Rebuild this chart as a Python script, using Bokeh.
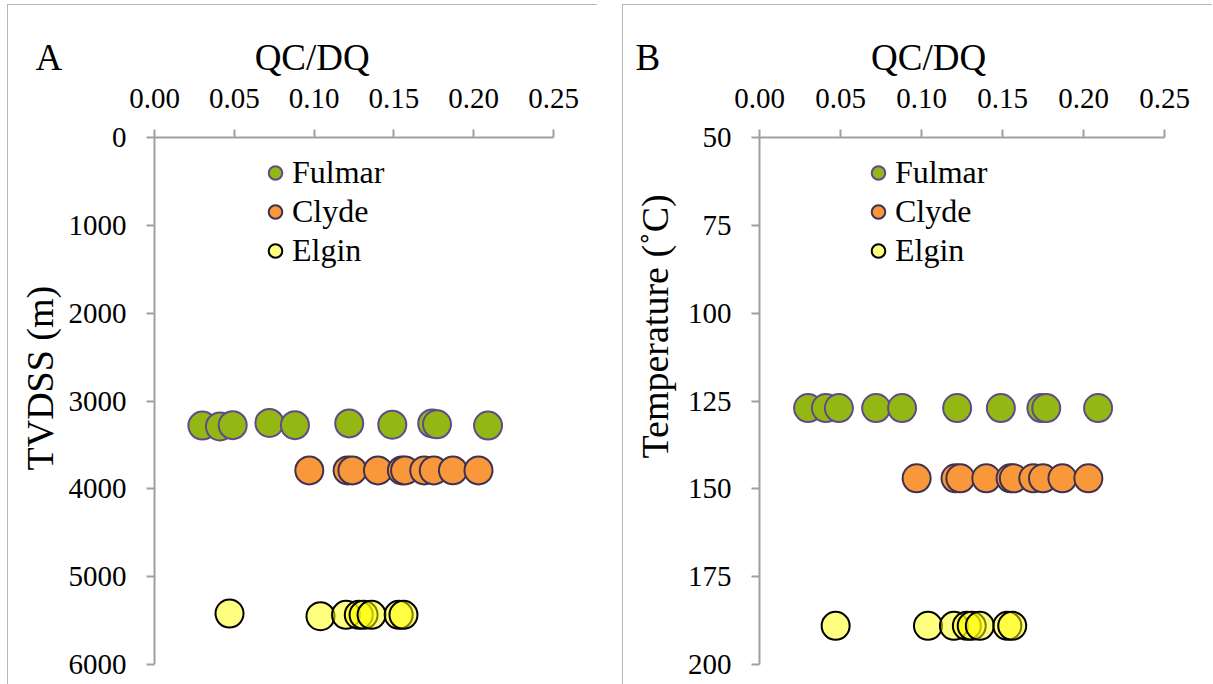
from bokeh.plotting import figure
from bokeh.models import Range1d, FixedTicker, PrintfTickFormatter, Legend, LegendItem, Title
from bokeh.layouts import row
from bokeh.embed import file_html
from bokeh.resources import INLINE

# ---- data ----
qc_fulmar = [0.030, 0.041, 0.049, 0.072, 0.088, 0.122, 0.149, 0.174, 0.177, 0.209]
depth_fulmar = [3280, 3290, 3275, 3250, 3275, 3255, 3270, 3255, 3265, 3280]
temp_fulmar = [127, 127, 127, 127, 127, 127, 127, 127, 127, 127]

qc_clyde = [0.097, 0.121, 0.124, 0.140, 0.155, 0.157, 0.169, 0.175, 0.187, 0.203]
depth_clyde = [3790, 3790, 3790, 3790, 3790, 3790, 3790, 3790, 3790, 3790]
temp_clyde = [147, 147, 147, 147, 147, 147, 147, 147, 147, 147]

qc_elgin = [0.047, 0.104, 0.120, 0.128, 0.131, 0.136, 0.153, 0.156]
depth_elgin = [5420, 5450, 5435, 5435, 5435, 5435, 5435, 5435]
temp_elgin = [189, 189, 189, 189, 189, 189, 189, 189]

x_ticks = [0.0, 0.05, 0.10, 0.15, 0.20, 0.25]
depth_ticks = [0, 1000, 2000, 3000, 4000, 5000, 6000]
temp_ticks = [50, 75, 100, 125, 150, 175, 200]

FONT = "Liberation Serif"
AX = "#a0a0a0"
BORDER = {"outline": "2px solid #a0a0a0", "outline-offset": "-2px"}
EM, EN, THIN = "\u2003", "\u2002", "\u2009"


def panel(letter, gap, head_offset, ys, yrange, yticks, ylabel, ylab_offset,
          ylab_standoff, bl, br, leg_x):
    p = figure(width=590, height=680, x_range=Range1d(0, 0.25),
               y_range=Range1d(yrange[1], yrange[0]), x_axis_location="above",
               output_backend="svg", toolbar_location=None,
               min_border_left=bl, min_border_right=br, min_border_top=133,
               min_border_bottom=20, styles=BORDER)
    p.grid.visible = False
    p.outline_line_color = None
    p.xaxis.ticker = FixedTicker(ticks=x_ticks)
    p.xaxis.formatter = PrintfTickFormatter(format="%.2f")
    p.yaxis.ticker = FixedTicker(ticks=yticks)
    for ax in p.axis:
        ax.axis_line_color = AX
        ax.axis_line_width = 2
        ax.major_tick_line_color = AX
        ax.major_tick_line_width = 2
        ax.major_tick_in = 0
        ax.major_tick_out = 8
        ax.minor_tick_line_color = None
        ax.major_label_text_font = FONT
        ax.major_label_text_font_size = "29px"
        ax.major_label_text_color = "black"
    p.xaxis.major_label_standoff = 22
    p.yaxis.major_label_standoff = 20

    # y-axis title
    p.add_layout(Title(text=ylabel, align="left", offset=ylab_offset,
                       standoff=ylab_standoff, text_font=FONT, text_font_size="38px",
                       text_font_style="normal", text_color="black"), "left")

    # panel letter and x-axis title on one row above the tick labels
    p.add_layout(Title(text=letter + gap + "QC/DQ", align="left", offset=head_offset,
                       standoff=12, vertical_align="top", text_font=FONT,
                       text_font_size="37px", text_font_style="normal",
                       text_color="black"), "above")

    r1 = p.scatter(qc_fulmar, ys[0], size=28, fill_color="#93B814",
                   line_color="#5F4A8B", line_width=2)
    r2 = p.scatter(qc_clyde, ys[1], size=28, fill_color="#F9983A",
                   line_color="#3F3151", line_width=2)
    r3 = p.scatter(qc_elgin, ys[2], size=28, fill_color="#FFFF00", fill_alpha=0.5,
                   line_color="black", line_width=2)
    leg = Legend(items=[LegendItem(label="Fulmar", renderers=[r1]),
                        LegendItem(label="Clyde", renderers=[r2]),
                        LegendItem(label="Elgin", renderers=[r3])],
                 location=(leg_x, 394), padding=0, margin=0, spacing=0,
                 glyph_width=34, glyph_height=39, label_standoff=0,
                 label_text_font=FONT, label_text_font_size="32px",
                 label_text_color="black",
                 background_fill_alpha=0, border_line_color=None)
    p.add_layout(leg)
    return p


pa = panel("A", EM * 5 + THIN, -119, [depth_fulmar, depth_clyde, depth_elgin], (0, 6000),
           depth_ticks, "TVDSS (m)", 194, 10, 147, 44, 104)
pb = panel("B", EM * 5 + EN + THIN, -124, [temp_fulmar, temp_clyde, temp_elgin], (50, 200),
           temp_ticks, "Temperature (˚C)", 206, 18, 137, 48, 102)

layout = row(pa, pb, spacing=25, margin=(4, 0, 0, 7))
open("out.html", "w").write(file_html(layout, INLINE))
